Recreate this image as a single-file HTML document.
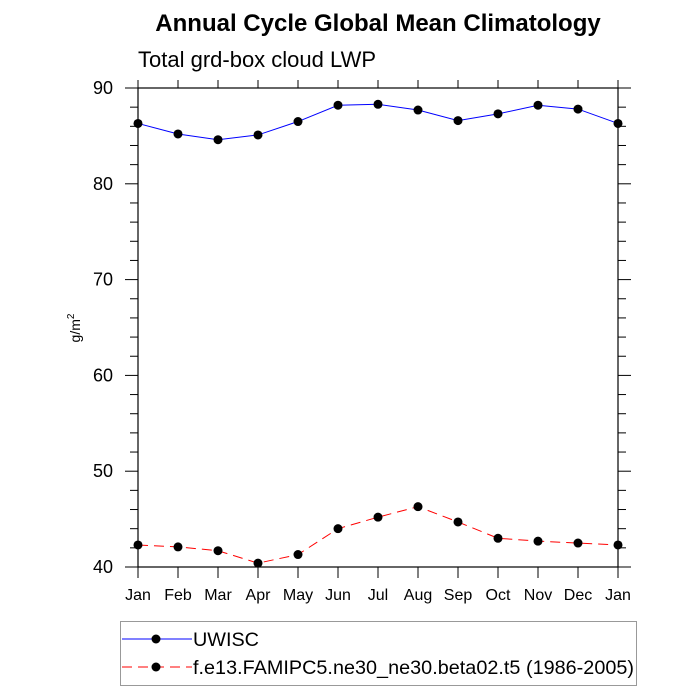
<!DOCTYPE html>
<html><head><meta charset="utf-8"><style>
body{margin:0;background:#fff}
svg{display:block;font-family:"Liberation Sans",sans-serif}
</style></head><body>
<svg id="c" width="700" height="700" viewBox="0 0 700 700">
<text x="378" y="31" text-anchor="middle" font-size="24" font-weight="bold">Annual Cycle Global Mean Climatology</text>
<text x="138" y="67" font-size="22">Total grd-box cloud LWP</text>
<text transform="translate(80,328) rotate(-90)" text-anchor="middle" font-size="14">g/m<tspan dy="-6" font-size="10">2</tspan></text>
<g id="axes"></g>
<g id="series"></g>
<g>
<rect x="120.5" y="621.5" width="516" height="64" fill="none" stroke="#999" stroke-width="1"/>
<g>
<line x1="122" y1="639" x2="192" y2="639" stroke="#00f" stroke-width="1"/>
<circle cx="156" cy="639" r="4.5" fill="#000"/>
<text x="193" y="646" font-size="19.8">UWISC</text></g>
<g>
<line x1="122" y1="667" x2="192" y2="667" stroke="#f00" stroke-width="1" stroke-dasharray="10,6"/>
<circle cx="156" cy="667" r="4.5" fill="#000"/>
<text x="193" y="674" font-size="19.8" textLength="441">f.e13.FAMIPC5.ne30_ne30.beta02.t5 (1986-2005)</text></g>
</g>
</svg>
<script>
const months=["Jan","Feb","Mar","Apr","May","Jun","Jul","Aug","Sep","Oct","Nov","Dec","Jan"];
const uwisc=[86.3,85.2,84.6,85.1,86.5,88.2,88.3,87.7,86.6,87.3,88.2,87.8,86.3];
const model=[42.3,42.1,41.7,40.4,41.3,44.0,45.2,46.3,44.7,43.0,42.7,42.5,42.3];
const yTicks=[40,50,60,70,80,90];
const NS="http://www.w3.org/2000/svg";
const L=138,R=618,T=88,B=567,ymin=40,ymax=90;
const xs=i=>L+(R-L)*i/(months.length-1);
const ys=v=>B-(v-ymin)/(ymax-ymin)*(B-T);
function mk(tag,at,parent){const e=document.createElementNS(NS,tag);for(const k in at)e.setAttribute(k,at[k]);parent.appendChild(e);return e;}
const ax=document.getElementById('axes');
const frame=mk('rect',{x:L,y:T,width:R-L,height:B-T,fill:'none',stroke:'#000','stroke-width':1.2},ax);


months.forEach((m,i)=>{
 const x=xs(i);
 mk('line',{x1:x,y1:B,x2:x,y2:B+11,stroke:'#000','stroke-width':1},ax);
 mk('line',{x1:x,y1:T,x2:x,y2:T-8,stroke:'#000','stroke-width':1},ax);
 const t=mk('text',{x:x,y:B+33,'text-anchor':'middle','font-size':16},ax);
 t.textContent=m;
 
 
});
for(let v=ymin;v<=ymax;v+=2){
 const y=ys(v),maj=(v%10===0);
 const len=maj?13:8;
 mk('line',{x1:L-len,y1:y,x2:L,y2:y,stroke:'#000','stroke-width':1},ax);
 mk('line',{x1:R,y1:y,x2:R+len,y2:y,stroke:'#000','stroke-width':1},ax);
}
yTicks.forEach(v=>{
 const t=mk('text',{x:113,y:ys(v)+6,'text-anchor':'end','font-size':18},ax);
 t.textContent=v;
 
 
});
const sg=document.getElementById('series');
function draw(vals,color,dash,name){
 const p=mk('polyline',{points:vals.map((v,i)=>xs(i)+','+ys(v)).join(' '),fill:'none',stroke:color,'stroke-width':1,'stroke-dasharray':dash},sg);
 
 
 vals.forEach((v,i)=>{
  const c=mk('circle',{cx:xs(i),cy:ys(v),r:4.5,fill:'#000'},sg);
  
  
 });
}
draw(uwisc,'#00f','none','uwisc');
draw(model,'#f00','10,6','model');
</script>
</body></html>
